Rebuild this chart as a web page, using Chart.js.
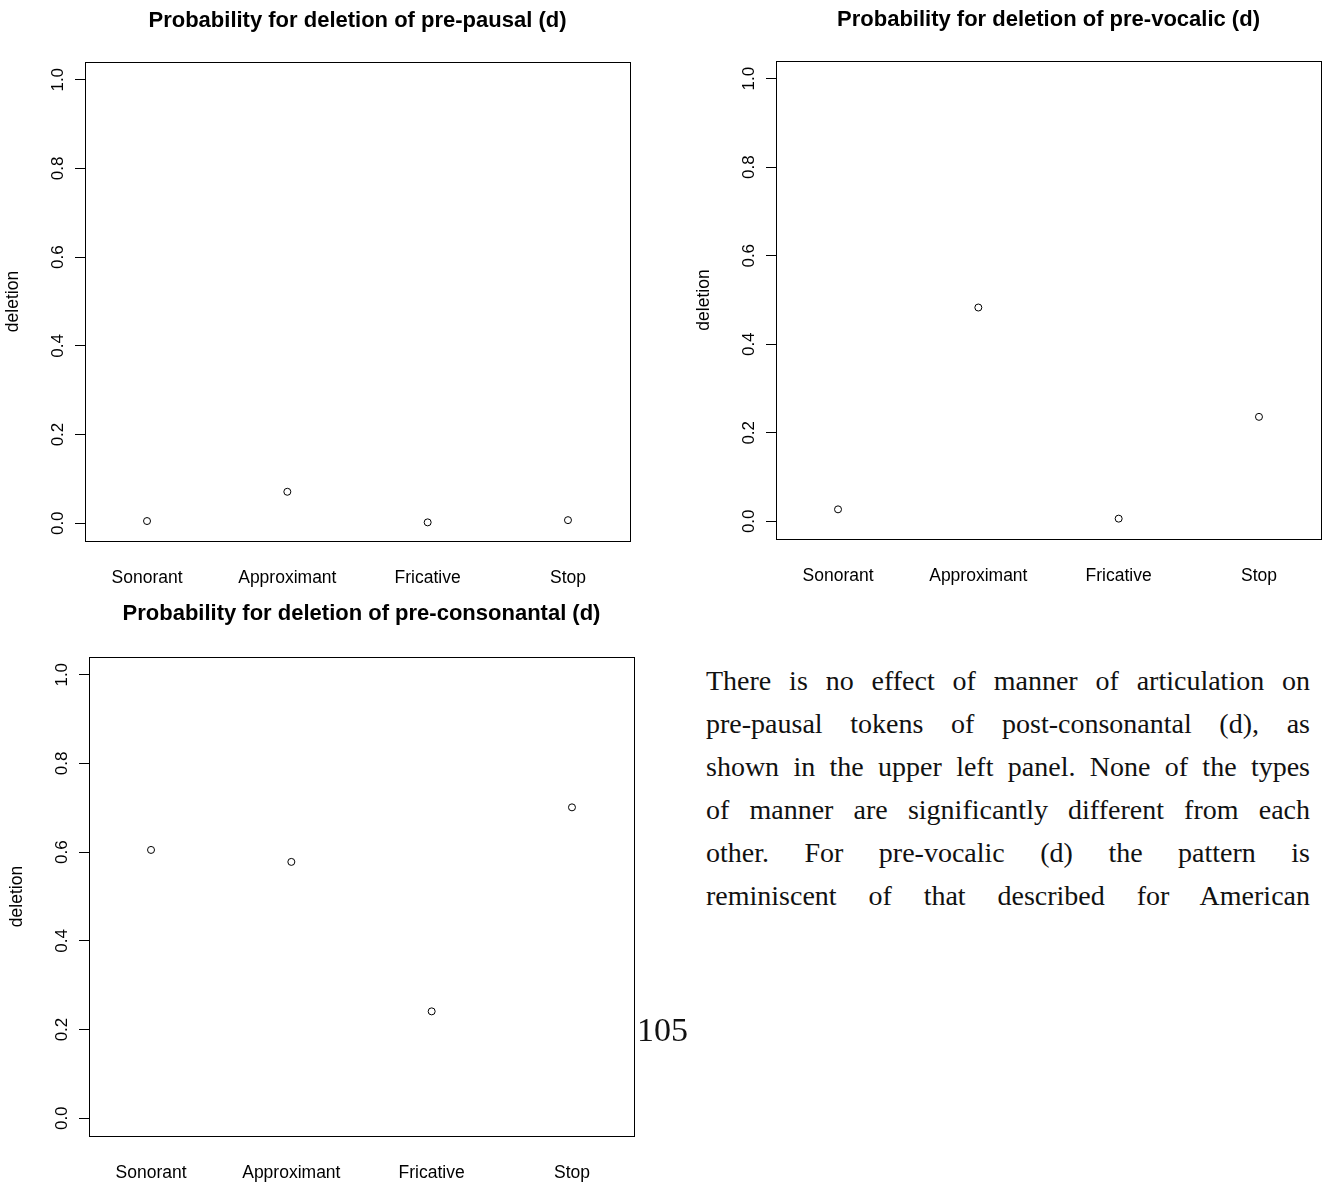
<!DOCTYPE html>
<html>
<head>
<meta charset="utf-8">
<script src="https://cdn.jsdelivr.net/npm/chart.js@4.4.1/dist/chart.umd.min.js"></script>
<style>
  html, body { margin: 0; padding: 0; background: #ffffff; width: 1323px; height: 1185px; overflow: hidden; }
  body { position: relative; }
  canvas { position: absolute; }
  .para { position: absolute; left: 706px; top: 659px; width: 604px; font-family: "Liberation Serif", "DejaVu Serif", serif; font-size: 28px; color: #111; z-index: 2; }
  .para div { height: 43px; line-height: 43px; text-align: justify; text-align-last: justify; white-space: nowrap; }
  .pagenum { position: absolute; left: 637px; top: 1010px; font-family: "Liberation Serif", serif; font-size: 34px; line-height: 40px; color: #111; z-index: 2; }
</style>
</head>
<body>
<canvas id="c1" width="660" height="600" style="left:0px; top:0px;"></canvas>
<canvas id="c2" width="635" height="600" style="left:691px; top:-1px;"></canvas>
<canvas id="c3" width="660" height="590" style="left:4px; top:595px;"></canvas>

<div class="para">
  <div>There is no effect of manner of articulation on</div>
  <div>pre-pausal tokens of post-consonantal (d), as</div>
  <div>shown in the upper left panel. None of the types</div>
  <div>of manner are significantly different from each</div>
  <div>other. For pre-vocalic (d) the pattern is</div>
  <div>reminiscent of that described for American</div>
</div>
<div class="pagenum">105</div>

<script>
// ---- data ----
const categories = ['Sonorant', 'Approximant', 'Fricative', 'Stop'];
const categoryPositions = [1, 2, 3, 4];
const prePausal = [0.005, 0.071, 0.002, 0.007];
const preVocalic = [0.027, 0.483, 0.006, 0.236];
const preConsonantal = [0.605, 0.578, 0.241, 0.701];
const yTickValues = [0, 0.2, 0.4, 0.6, 0.8, 1.0];
const titles = [
  'Probability for deletion of pre-pausal (d)',
  'Probability for deletion of pre-vocalic (d)',
  'Probability for deletion of pre-consonantal (d)'
];
const yAxisLabel = 'deletion';

const FONT = '"Liberation Sans", Arial, Helvetica, sans-serif';

const boxPlugin = {
  id: 'box',
  afterDraw(chart) {
    const a = chart.chartArea;
    const ctx = chart.ctx;
    ctx.save();
    ctx.strokeStyle = '#000';
    ctx.lineWidth = 1;
    ctx.strokeRect(Math.round(a.left) + 0.5, Math.round(a.top) + 0.5, Math.round(a.right - a.left), Math.round(a.bottom - a.top));
    ctx.restore();
  }
};

function makePanel(id, title, values, geo) {
  const data = values.map((v, i) => ({ x: categoryPositions[i], y: v }));
  new Chart(document.getElementById(id), {
    type: 'scatter',
    data: {
      datasets: [{
        data: data,
        pointStyle: 'circle',
        pointRadius: 3.5,
        pointBorderWidth: 1,
        pointBorderColor: '#000',
        pointBackgroundColor: 'rgba(255,255,255,0)',
        showLine: false
      }]
    },
    plugins: [boxPlugin],
    options: {
      responsive: false,
      animation: false,
      devicePixelRatio: 1,
      layout: { padding: { left: 0, right: geo.padRight, top: 0, bottom: 0 } },
      plugins: {
        legend: { display: false },
        tooltip: { enabled: false },
        title: {
          display: true,
          text: title,
          fullSize: false,
          color: '#000',
          font: { family: FONT, size: 22, weight: 'bold', lineHeight: 1.2 },
          padding: { top: geo.titleTop, bottom: geo.titleBottom }
        }
      },
      scales: {
        x: {
          type: 'linear',
          min: 0.558,
          max: 4.442,
          afterFit(s) { s.height = geo.xHeight; s.paddingLeft = 0; s.paddingRight = 0; },
          afterBuildTicks(s) { s.ticks = categoryPositions.map(v => ({ value: v })); },
          grid: { display: false, drawTicks: false },
          border: { display: true, color: '#000', width: 1 },
          ticks: {
            autoSkip: false,
            maxRotation: 0,
            minRotation: 0,
            padding: 27,
            color: '#000',
            font: { family: FONT, size: 17.5 },
            callback: (v) => categories[categoryPositions.indexOf(v)] || ''
          }
        },
        y: {
          type: 'linear',
          min: -0.04,
          max: 1.04,
          afterFit(s) { s.width = geo.yWidth; s.paddingTop = 0; s.paddingBottom = 0; },
          afterBuildTicks(s) { s.ticks = yTickValues.map(v => ({ value: v })); },
          grid: { display: true, drawOnChartArea: false, drawTicks: true, tickLength: 10, color: '#000', lineWidth: 1 },
          border: { display: true, color: '#000', width: 1 },
          title: {
            display: true,
            text: yAxisLabel,
            color: '#000',
            font: { family: FONT, size: 17.5 },
            padding: { top: 3, bottom: 0 }
          },
          ticks: {
            autoSkip: false,
            minRotation: 90,
            maxRotation: 90,
            crossAlign: 'center',
            padding: 5,
            color: '#000',
            font: { family: FONT, size: 17 },
            callback: (v) => Number(v).toFixed(1)
          }
        }
      }
    }
  });
}

makePanel('c1', titles[0], prePausal, { padRight: 30, titleTop: 8, titleBottom: 27.6, xHeight: 59, yWidth: 85 });
makePanel('c2', titles[1], preVocalic, { padRight: 1, titleTop: 8, titleBottom: 27.6, xHeight: 60, yWidth: 85 });
makePanel('c3', titles[2], preConsonantal, { padRight: 30, titleTop: 6, titleBottom: 29.6, xHeight: 49, yWidth: 85 });
</script>
</body>
</html>
